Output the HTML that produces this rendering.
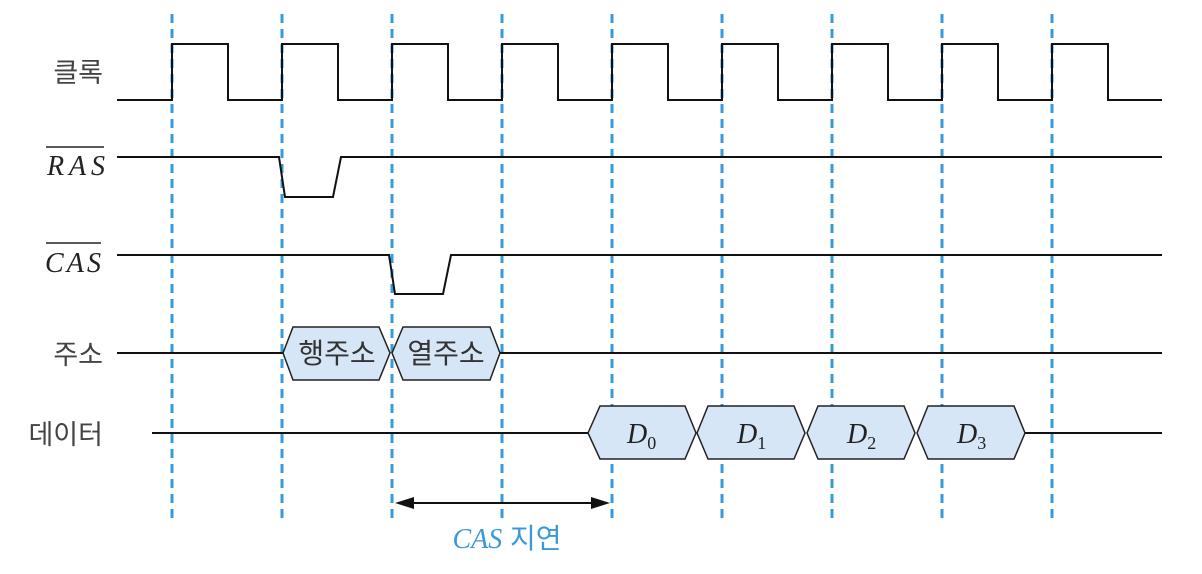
<!DOCTYPE html>
<html><head><meta charset="utf-8"><style>
html,body{margin:0;padding:0;background:#fff;}
svg{display:block;}
.k{font-family:"Liberation Sans","Noto Sans CJK KR",sans-serif;font-size:27px;fill:#444;}
.h{font-family:"Liberation Sans","Noto Sans CJK KR",sans-serif;font-size:28px;fill:#333;}
.m{font-family:"Liberation Serif","Noto Serif CJK SC",serif;font-style:italic;font-size:28px;fill:#222;}
</style></head><body>
<svg width="1202" height="574" viewBox="0 0 1202 574" xmlns="http://www.w3.org/2000/svg">
<g stroke="#3a9ad9" stroke-width="3" stroke-dasharray="9,6">
<line x1="172" y1="14" x2="172" y2="524"/><line x1="282" y1="14" x2="282" y2="524"/>
<line x1="392" y1="14" x2="392" y2="524"/><line x1="502" y1="14" x2="502" y2="524"/>
<line x1="612" y1="14" x2="612" y2="524"/><line x1="722" y1="14" x2="722" y2="524"/>
<line x1="832" y1="14" x2="832" y2="524"/><line x1="942" y1="14" x2="942" y2="524"/>
<line x1="1052" y1="14" x2="1052" y2="524"/>
</g>
<g fill="none" stroke="#111" stroke-width="2">
<polyline points="117,100 172,100 172,44 228,44 228,100 282,100 282,44 338,44 338,100 392,100 392,44 448,44 448,100 502,100 502,44 558,44 558,100 612,100 612,44 668,44 668,100 722,100 722,44 778,44 778,100 832,100 832,44 888,44 888,100 942,100 942,44 998,44 998,100 1052,100 1052,44 1108,44 1108,100 1162,100"/>
<polyline points="117,157 279,157 285,197 333,197 341,157 1162,157"/>
<polyline points="117,255 389,255 395,294 443,294 451,255 1162,255"/>
<line x1="117" y1="353" x2="283" y2="353"/><line x1="500" y1="353" x2="1162" y2="353"/>
<line x1="152" y1="433" x2="588" y2="433"/><line x1="1025" y1="433" x2="1162" y2="433"/>
</g>
<g fill="#d6e6f6" stroke="#222" stroke-width="1.5">
<polygon points="283,353 293,327 379,327 390,353 379,380 293,380"/>
<polygon points="392,353 403,327 490,327 500,353 490,380 403,380"/>
<polygon points="588,433 600,406 685,406 696,433 685,459 600,459"/>
<polygon points="697,433 708,406 794,406 805,433 794,459 708,459"/>
<polygon points="807,433 818,406 904,406 915,433 904,459 818,459"/>
<polygon points="917,433 928,406 1014,406 1025,433 1014,459 928,459"/>
</g>
<text class="h" x="337" y="363" text-anchor="middle">행주소</text>
<text class="h" x="446" y="363" text-anchor="middle">열주소</text>
<text class="m" x="627" y="443">D<tspan font-style="normal" font-size="18" dy="6">0</tspan></text>
<text class="m" x="737" y="443">D<tspan font-style="normal" font-size="18" dy="6">1</tspan></text>
<text class="m" x="847" y="443">D<tspan font-style="normal" font-size="18" dy="6">2</tspan></text>
<text class="m" x="957" y="443">D<tspan font-style="normal" font-size="18" dy="6">3</tspan></text>
<line x1="405" y1="503" x2="600" y2="503" stroke="#111" stroke-width="2"/>
<polygon points="395,503 414,497 414,509" fill="#111"/>
<polygon points="610,503 591,497 591,509" fill="#111"/>
<text x="507" y="548" text-anchor="middle" fill="#3a9ad9" style="font-size:28px"><tspan style="font-family:'Liberation Serif',serif;font-style:italic">CAS</tspan><tspan style="font-family:'Liberation Sans','Noto Sans CJK KR',sans-serif"> 지연</tspan></text>
<text class="k" x="103" y="82" text-anchor="end">클록</text>
<text class="m" x="105" y="175" text-anchor="end" textLength="58">RAS</text>
<line x1="46" y1="147" x2="104" y2="147" stroke="#222" stroke-width="1.5"/>
<text class="m" x="101" y="272" text-anchor="end" textLength="56">CAS</text>
<line x1="46" y1="243" x2="101" y2="243" stroke="#222" stroke-width="1.5"/>
<text class="k" x="103" y="364" text-anchor="end">주소</text>
<text class="k" x="103" y="444" text-anchor="end">데이터</text>
</svg>
</body></html>
